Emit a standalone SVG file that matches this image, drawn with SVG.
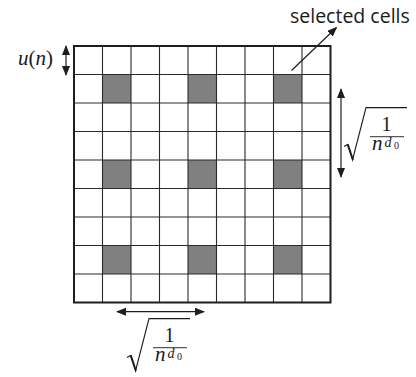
<svg xmlns="http://www.w3.org/2000/svg" width="416" height="377" viewBox="0 0 416 377">
<defs>
<style>
.cell{fill:#808080}
.grid{stroke:#2a2a2a;stroke-width:1.1;fill:none}
.border{stroke:#1e1e1e;stroke-width:2;fill:none}
.arrow{stroke:#1e1e1e;stroke-width:1.2;fill:none;marker-end:url(#ah);marker-start:url(#ah)}
.arrow1{stroke:#1e1e1e;stroke-width:1.2;fill:none;marker-end:url(#ah)}
.math{font-family:"Liberation Serif","Times New Roman",serif;fill:#1a1a1a}
.it{font-style:italic}
.lbl{font-family:"Open Sans","Noto Sans",sans-serif;font-size:19.5px;fill:#1a1a1a}
.rad{stroke:#1a1a1a;stroke-width:1.1;fill:none;stroke-linejoin:miter}
</style>
<marker id="ah" viewBox="0 0 10 8" refX="9" refY="4" markerWidth="10" markerHeight="8" markerUnits="userSpaceOnUse" orient="auto-start-reverse">
<path d="M0,0 L10,4 L0,8 z" fill="#1e1e1e"/>
</marker>
<g id="sqrtlabel">
<path class="rad" d="M344,146.5 L347.3,144.5 L352.5,160 L366,107.6 L407,107.6"/>
<path d="M347.3,144.5 L352.5,160 L353.8,159.4 L348.6,143.8 z" fill="#1a1a1a"/>
<text class="math" x="386.5" y="131" font-size="20" text-anchor="middle">1</text>
<line x1="370" y1="136.7" x2="404" y2="136.7" stroke="#1a1a1a" stroke-width="0.9"/>
<text class="math it" x="372" y="150" font-size="21">n</text>
<text class="math it" x="384.5" y="146.5" font-size="14">d</text>
<text class="math" x="394" y="149.2" font-size="10">0</text>
</g>
</defs>

<g id="grid">
<rect class="cell" x="102.5" y="74.5" width="28.5" height="28.5"/>
<rect class="cell" x="188" y="74.5" width="28.5" height="28.5"/>
<rect class="cell" x="273.5" y="74.5" width="28.5" height="28.5"/>
<rect class="cell" x="102.5" y="160" width="28.5" height="28.5"/>
<rect class="cell" x="188" y="160" width="28.5" height="28.5"/>
<rect class="cell" x="273.5" y="160" width="28.5" height="28.5"/>
<rect class="cell" x="102.5" y="245.5" width="28.5" height="28.5"/>
<rect class="cell" x="188" y="245.5" width="28.5" height="28.5"/>
<rect class="cell" x="273.5" y="245.5" width="28.5" height="28.5"/>
<path class="grid" d="M102.5,46V302.5M131,46V302.5M159.5,46V302.5M188,46V302.5M216.5,46V302.5M245,46V302.5M273.5,46V302.5M302,46V302.5
M74,74.5H330.5M74,103H330.5M74,131.5H330.5M74,160H330.5M74,188.5H330.5M74,217H330.5M74,245.5H330.5M74,274H330.5"/>
<rect class="border" x="74" y="46" width="256.5" height="256.5"/>
</g>

<g id="connectors">
<line class="arrow" x1="66" y1="46" x2="66" y2="75"/>
<line class="arrow" x1="341" y1="89" x2="341" y2="177"/>
<line class="arrow" x1="117" y1="311.7" x2="204" y2="311.7"/>
<line class="arrow1" x1="291.5" y1="70.5" x2="336.5" y2="27.5"/>
</g>

<g id="label-un">
<text class="math" x="18" y="65" font-size="21"><tspan class="it">u</tspan>(<tspan class="it">n</tspan>)</text>
</g>

<g id="label-selected">
<text class="lbl" x="290" y="23">selected cells</text>
</g>

<g id="label-right">
<use href="#sqrtlabel"/>
</g>
<g id="label-bottom">
<use href="#sqrtlabel" transform="translate(-217,211)"/>
</g>
</svg>
